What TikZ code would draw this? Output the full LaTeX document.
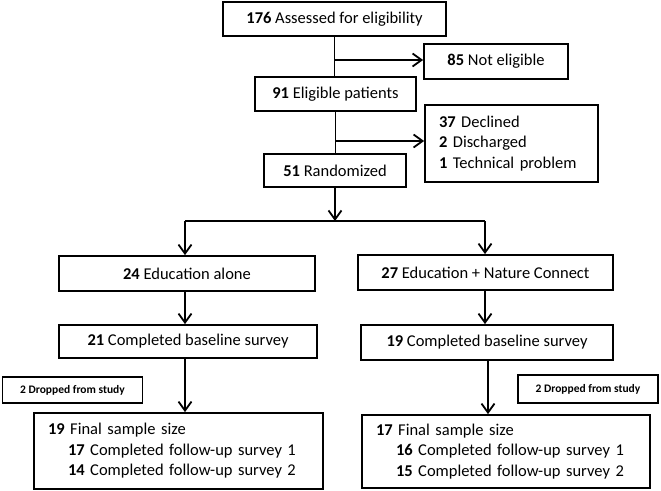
\documentclass[tikz,border=0pt]{standalone}
\usepackage{fontspec}
\setmainfont{Carlito}
\usetikzlibrary{arrows.meta}

\tikzset{
  box/.style={draw, line width=1.8pt, inner sep=0pt, minimum height=34pt,
    font=\fontsize{16.5}{20.5}\selectfont},
  listbox/.style={box, align=left, inner xsep=14pt, inner ysep=6pt},
  dropbox/.style={draw, line width=1.8pt, inner sep=0pt, minimum width=140pt,
    minimum height=27pt, font=\bfseries\fontsize{11.5}{13}\selectfont},
  ln/.style={line width=1.8pt},
  arr/.style={ln, -{Straight Barb[length=9pt,width=13pt]}}
}

\begin{document}
\begin{tikzpicture}[x=1pt,y=-1pt]
\useasboundingbox (0,0) rectangle (661,490);
% screening
\node[box, minimum width=223pt] (assess) at (334.5,19) {\textbf{176} Assessed for eligibility};
\node[box, minimum width=144pt, minimum height=35pt] (noteli) at (496,61.5) {\textbf{85} Not eligible};
\node[box, minimum width=161pt] (elig) at (335.5,94) {\textbf{91} Eligible patients};
\node[listbox, text width=145pt, minimum height=77pt] (decl) at (511.5,143.5)
  {\textbf{37} Declined\\ \textbf{2} Discharged\\ \textbf{1} Technical problem};
\node[box, minimum width=142pt, minimum height=33pt] (rand) at (335,170.5) {\textbf{51} Randomized};
% arms
\node[box, minimum width=256pt, minimum height=35pt] (eduA) at (187,273.5) {\textbf{24} Education alone};
\node[box, minimum width=255pt, minimum height=35pt] (eduN) at (485.5,272.5) {\textbf{27} Education + Nature Connect};
\node[box, minimum width=258pt, minimum height=33pt] (baseA) at (188,341.5) {\textbf{21} Completed baseline survey};
\node[box, minimum width=252pt, minimum height=35pt] (baseN) at (487,342.5) {\textbf{19} Completed baseline survey};
\node[dropbox, minimum height=26pt] (dropA) at (72.5,390) {2 Dropped from study};
\node[dropbox, minimum height=28pt] (dropN) at (588,389) {2 Dropped from study};
\node[listbox, text width=261pt, minimum height=76pt] (finA) at (178.5,451)
  {\textbf{19} Final sample size\\ \hspace*{20pt}\textbf{17} Completed follow-up survey 1\\ \hspace*{20pt}\textbf{14} Completed follow-up survey 2};
\node[listbox, text width=260pt, minimum height=73pt] (finN) at (506,451.5)
  {\textbf{17} Final sample size\\ \hspace*{20pt}\textbf{16} Completed follow-up survey 1\\ \hspace*{20pt}\textbf{15} Completed follow-up survey 2};

% connectors
\coordinate (splitL) at (185,221);
\coordinate (splitR) at (485,221);
\draw[ln] (assess.south) -- (assess.south |- elig.north);
\draw[arr] (assess.south |- 0,60) -- (noteli.west |- 0,60);
\draw[ln] (elig.south) -- (elig.south |- rand.north);
\draw[arr] (elig.south |- 0,141) -- (decl.west |- 0,141);
\draw[arr] (rand.south) -- (rand.south |- splitL);
\draw[ln] (splitL) -- (splitR);
\draw[arr] (splitL) -- (splitL |- eduA.north);
\draw[arr] (splitR) -- (splitR |- eduN.north);
\draw[arr] (splitL |- eduA.south) -- (splitL |- baseA.north);
\draw[arr] (splitR |- eduN.south) -- (splitR |- baseN.north);
\draw[arr] (splitL |- baseA.south) -- (splitL |- finA.north);
\draw[arr] (488,0 |- baseN.south) -- (488,0 |- finN.north);
\end{tikzpicture}
\end{document}
